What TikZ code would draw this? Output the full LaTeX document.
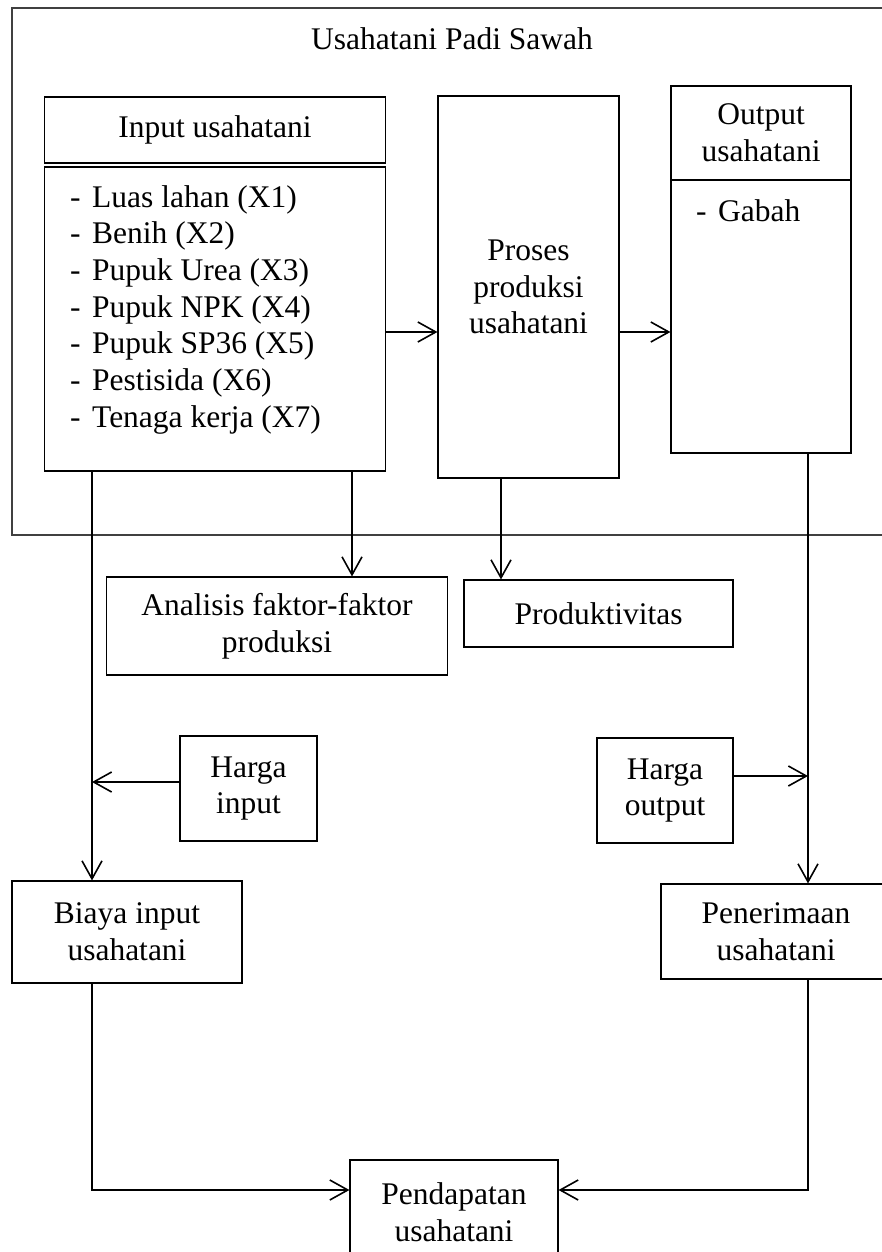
\documentclass[tikz,border=0pt]{standalone}
\usepackage{fontspec}
\setmainfont{Liberation Serif}
\usetikzlibrary{arrows.meta, shapes}

\begin{document}
\begin{tikzpicture}[x=1pt, y=-1pt, font=\fontsize{31.5}{36.7}\selectfont]
\useasboundingbox (0,0) rectangle (882,1252);

% columns and rows used by the connectors
\coordinate (colL) at (92,0);
\coordinate (colA) at (352,0);
\coordinate (colP) at (501,0);
\coordinate (colR) at (808,0);
\coordinate (rowFlow) at (0,332);
\coordinate (rowHin) at (0,782);
\coordinate (rowHout) at (0,776);
\coordinate (rowPend) at (0,1190);

\begin{scope}[every node/.style={rectangle, draw, line width=1.1pt, inner sep=0pt, align=center}]
  \node[draw=black!75, line width=1.5pt, minimum width=890pt, minimum height=527pt] (sawah) at (457,271.5) {};
  \node[minimum width=341pt, minimum height=66pt] (inhead) at (215,130) {Input usahatani};
  \node[minimum width=341pt, minimum height=304pt] (inbody) at (215,319) {};
  \node[minimum width=181pt, minimum height=382pt] (proses) at (528.5,287) {Proses\\produksi\\usahatani};
  \node[minimum width=180pt, minimum height=94pt] (outhead) at (761,133) {Output\\usahatani};
  \node[minimum width=180pt, minimum height=273pt] (outbody) at (761,316.5) {};
  \node[minimum width=341.5pt, minimum height=98pt] (analisis) at (277,626) {Analisis faktor-faktor\\produksi};
  \node[minimum width=269pt, minimum height=67pt] (produk) at (598.5,613.5) {Produktivitas};
  \node[minimum width=137pt, minimum height=105pt] (hin) at (248.5,788.5) {Harga\\input};
  \node[minimum width=136pt, minimum height=105pt] (hout) at (665,790.5) {Harga\\output};
  \node[minimum width=230pt, minimum height=102pt] (biaya) at (127,932) {Biaya input\\usahatani};
  \node[minimum width=230pt, minimum height=95pt] (terima) at (776,931.5) {Penerimaan\\usahatani};
  \node[minimum width=208pt, minimum height=104pt] (pendapatan) at (454,1212) {Pendapatan\\usahatani};
\end{scope}

\begin{scope}[every node/.style={inner sep=0pt, align=left}]
  \node[anchor=base] (judul) at (452,50) {Usahatani Padi Sawah};
  % base of a multi-line node is its last line
  \node[anchor=base west] (inlist) at (70,427.2) {\makebox[22pt][l]{-}Luas lahan (X1)\\
    \makebox[22pt][l]{-}Benih (X2)\\
    \makebox[22pt][l]{-}Pupuk Urea (X3)\\
    \makebox[22pt][l]{-}Pupuk NPK (X4)\\
    \makebox[22pt][l]{-}Pupuk SP36 (X5)\\
    \makebox[22pt][l]{-}Pestisida (X6)\\
    \makebox[22pt][l]{-}Tenaga kerja (X7)};
  \node[anchor=base west] (gabah) at (696,222) {\makebox[22pt][l]{-}Gabah};
\end{scope}

\begin{scope}[>={Straight Barb[length=18pt, width=20pt]}, line width=1.6pt]
  \draw[->] (inbody.east |- rowFlow) -- (proses.west |- rowFlow);
  \draw[->] (proses.east |- rowFlow) -- (outbody.west |- rowFlow);
  \draw[->] (inbody.south -| colA) -- (analisis.north -| colA);
  \draw[->] (proses.south -| colP) -- (produk.north -| colP);
  \draw[->] (inbody.south -| colL) -- (biaya.north -| colL);
  \draw[->] (outbody.south -| colR) -- (terima.north -| colR);
  \draw[->] (hin.west |- rowHin) -- (colL |- rowHin);
  \draw[->] (hout.east |- rowHout) -- (colR |- rowHout);
  \draw[->] (biaya.south -| colL) |- (pendapatan.west |- rowPend);
  \draw[->] (terima.south -| colR) |- (pendapatan.east |- rowPend);
\end{scope}
\end{tikzpicture}
\end{document}
